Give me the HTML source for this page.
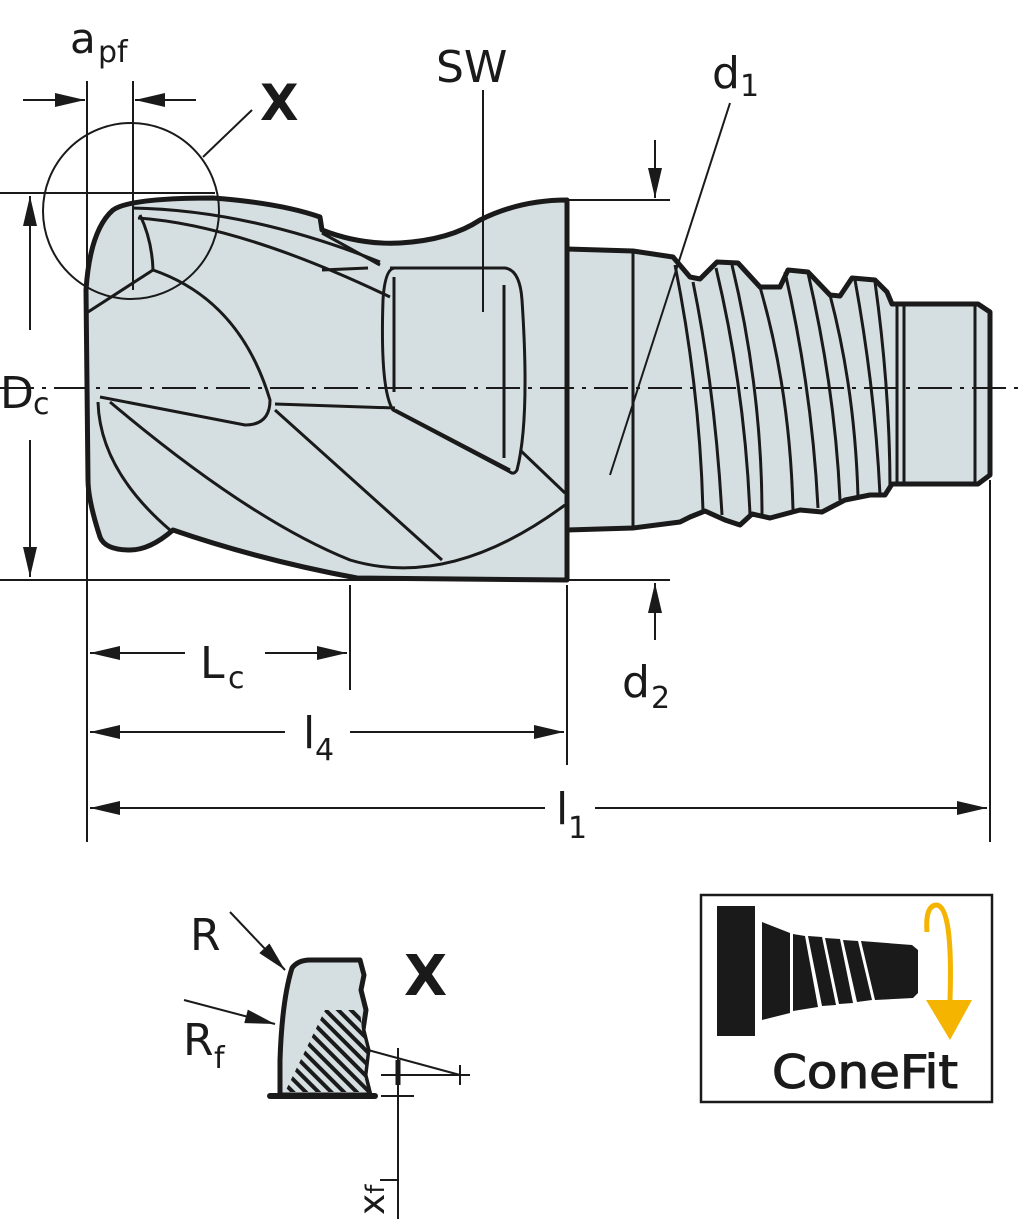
<!DOCTYPE html>
<html><head><meta charset="utf-8"><style>
html,body{margin:0;padding:0;background:#fff}
svg{display:block}
text{font-family:"DejaVu Sans","Liberation Sans",sans-serif;fill:#1a1a1a}
</style></head><body>
<svg width="1024" height="1219" viewBox="0 0 1024 1219" xmlns="http://www.w3.org/2000/svg">
<defs>
<marker id="ab" viewBox="0 0 30 14" refX="30" refY="7" markerWidth="30" markerHeight="14" markerUnits="userSpaceOnUse" orient="auto-start-reverse">
<path d="M0,0 L30,7 L0,14 z" fill="#1a1a1a"/></marker>
<pattern id="hatch" width="9" height="9" patternUnits="userSpaceOnUse" patternTransform="rotate(-45)">
<rect width="9" height="9" fill="#d5dfe1"/><rect width="4" height="9" fill="#1a1a1a"/></pattern>
</defs>
<g stroke="#1a1a1a" fill="none">
<!-- shank -->
<path d="M567,249 L633,251 L673,257 L690,277 L700,279 L717,262 L738,263 L760,287 L780,287 L788,270 L808,272 L830,295 L840,296 L852,278 L875,280 L887,292 L892,304 L978,304 L990,312 L990,475 L978,484 L892,484 L885,495 L870,495 L845,500 L822,512 L800,510 L770,518 L752,514 L740,525 L725,520 L705,511 L690,517 L680,522 L633,528 L567,530 Z" fill="#d5dfe1" stroke-width="5" stroke-linejoin="round"/>
<g stroke-width="3">
<path d="M633,251 L633,528"/>
<path d="M675,265 Q700,390 703,512"/>
<path d="M693,282 Q715,390 722,515"/>
<path d="M716,268 Q745,390 750,515"/>
<path d="M732,265 Q762,390 762,515"/>
<path d="M760,287 Q790,390 793,510"/>
<path d="M785,272 Q812,390 818,508"/>
<path d="M808,273 Q835,390 840,500"/>
<path d="M830,295 Q855,390 858,497"/>
<path d="M855,280 Q875,390 880,495"/>
<path d="M875,282 Q890,390 890,490"/>
<path d="M897,304 L897,484"/><path d="M904,304 L904,484"/>
<path d="M975,304 L975,484"/>
</g>
<!-- head -->
<path d="M113,210 Q130,198 213,198 Q280,203 320,217 L322,230 Q360,245 400,243 Q450,240 480,220 Q520,200 567,200 L567,580 L357,578 Q260,560 173,530 Q150,550 130,550 Q105,550 100,537 Q88,500 88,480 L86,290 Q90,230 113,210 Z" fill="#d5dfe1" stroke-width="5" stroke-linejoin="round"/>
<g stroke-width="3">
<path d="M132,208 Q250,210 380,262"/>
<path d="M138,218 Q240,225 390,297"/>
<path d="M322,233 L380,265"/>
<path d="M322,270 L368,268"/>
<path d="M140,215 Q152,240 153,270"/>
<path d="M153,270 L88,312"/>
<path d="M153,270 Q240,300 270,400 Q270,425 245,425 L100,397"/>
<path d="M275,404 L395,408"/>
<path d="M275,410 L442,560"/>
<path d="M98,402 Q100,470 170,530"/>
<path d="M110,402 Q250,520 350,560 Q450,590 565,505"/>
<path d="M395,410 L510,470"/>
<path d="M520,450 L565,493"/>
<path d="M390,268 L505,268 Q520,270 522,300 Q530,420 517,470 Q514,475 510,472 L393,410 Q380,390 383,300 Q385,268 395,268"/>
<path d="M394,277 L394,392"/>
<path d="M504,285 L504,458"/>
</g>
<!-- centerline -->
<path d="M0,388 L1024,388" stroke-width="2" stroke-dasharray="34,8,4,8"/>
<g stroke-width="2">
<path d="M0,193 L215,193"/>
<path d="M0,580 L670,580"/>
<path d="M567,200 L670,200"/>
<path d="M87,81 L87,842"/>
<path d="M133,81 L133,290"/>
<path d="M567,585 L567,765"/>
<path d="M350,585 L350,690"/>
<path d="M990,480 L990,842"/>
<circle cx="131" cy="211" r="88"/>
<path d="M203,157 L252,110"/>
<path d="M483,90 L483,312"/>
<path d="M730,103 L610,475"/>
<path d="M23,100 L85,100" marker-end="url(#ab)"/>
<path d="M196,100 L135,100" marker-end="url(#ab)"/>
<path d="M30,196 L30,330" marker-start="url(#ab)"/>
<path d="M30,440 L30,577" marker-end="url(#ab)"/>
<path d="M655,140 L655,198" marker-end="url(#ab)"/>
<path d="M655,640 L655,583" marker-end="url(#ab)"/>
<path d="M90,653 L185,653" marker-start="url(#ab)"/>
<path d="M265,653 L347,653" marker-end="url(#ab)"/>
<path d="M90,732 L285,732" marker-start="url(#ab)"/>
<path d="M350,732 L564,732" marker-end="url(#ab)"/>
<path d="M90,808 L545,808" marker-start="url(#ab)"/>
<path d="M595,808 L987,808" marker-end="url(#ab)"/>
</g>
<!-- X detail -->
<path d="M292,968 Q298,960 310,960 L360,960 L364,975 L361,990 L366,1010 L363,1030 L368,1050 L365,1075 L370,1095 L280,1095 L280,1060 Q282,1000 292,968 Z" fill="#d5dfe1" stroke-width="5" stroke-linejoin="round"/>
<path d="M285,1092 L325,1010 L360,1010 L362,1030 L367,1050 L364,1075 L368,1092 Z" fill="url(#hatch)" stroke="none"/>
<path d="M270,1096 L375,1096" stroke-width="6" stroke-linecap="round"/>
<g stroke-width="2">
<path d="M230,912 L285,970" marker-end="url(#ab)"/>
<path d="M184,1000 L275,1024" marker-end="url(#ab)"/>
<path d="M368,1050 L460,1075"/>
<path d="M381,1075 L470,1075"/><path d="M460,1065 L460,1085"/>
<path d="M398,1048 L398,1219"/>
<path d="M381,1096 L414,1096"/>
<path d="M380,1180 L398,1180"/>
</g>
<path d="M398,1060 L398,1085" stroke-width="5"/>
<rect x="701" y="895" width="291" height="207" stroke-width="2.5"/>
</g>
<rect x="717" y="906" width="38" height="130" fill="#1a1a1a"/>
<path d="M762,922 L790,933 L790,1013 L762,1020 Z" fill="#1a1a1a"/>
<path d="M793,934 L805,936 L818,1007 L793,1011 Z" fill="#1a1a1a"/>
<path d="M808,936 L822,937 L836,1005 L822,1006 Z" fill="#1a1a1a"/>
<path d="M825,938 L840,939 L853,1003 L839,1004 Z" fill="#1a1a1a"/>
<path d="M843,940 L858,941 L872,1000 L857,1002 Z" fill="#1a1a1a"/>
<path d="M861,941 L912,945 L918,950 L918,993 L913,998 L875,1000 Z" fill="#1a1a1a"/>
<path d="M927,932 Q925,905 937,905 Q953,908 950,1000" fill="none" stroke="#f4b400" stroke-width="5"/>
<path d="M926,1000 L972,1000 L950,1040 Z" fill="#f4b400"/>
<text x="70" y="53" font-size="42">a</text><text x="98" y="62" font-size="30">pf</text>
<text x="260" y="120" font-size="50" font-weight="bold">X</text>
<text x="436" y="82" font-size="44">SW</text>
<text x="712" y="88" font-size="44">d</text><text x="740" y="96" font-size="30">1</text>
<text x="0" y="408" font-size="44">D</text><text x="33" y="414" font-size="30">c</text>
<text x="200" y="678" font-size="44">L</text><text x="228" y="688" font-size="30">c</text>
<text x="303" y="748" font-size="44">l</text><text x="315" y="760" font-size="30">4</text>
<text x="556" y="824" font-size="44">l</text><text x="568" y="838" font-size="30">1</text>
<text x="622" y="697" font-size="44">d</text><text x="651" y="708" font-size="30">2</text>
<text x="190" y="950" font-size="44">R</text>
<text x="183" y="1055" font-size="44">R</text><text x="214" y="1068" font-size="30">f</text>
<text x="404" y="995" font-size="56" font-weight="bold">X</text>
<text transform="translate(384,1215) rotate(-90)" font-size="36">x<tspan font-size="26">f</tspan></text>
<text x="772" y="1088" font-size="46" textLength="186" lengthAdjust="spacingAndGlyphs" stroke="#1a1a1a" stroke-width="1" style="font-family:'DejaVu Sans Condensed','DejaVu Sans',sans-serif">ConeFit</text>
</svg>
</body></html>
